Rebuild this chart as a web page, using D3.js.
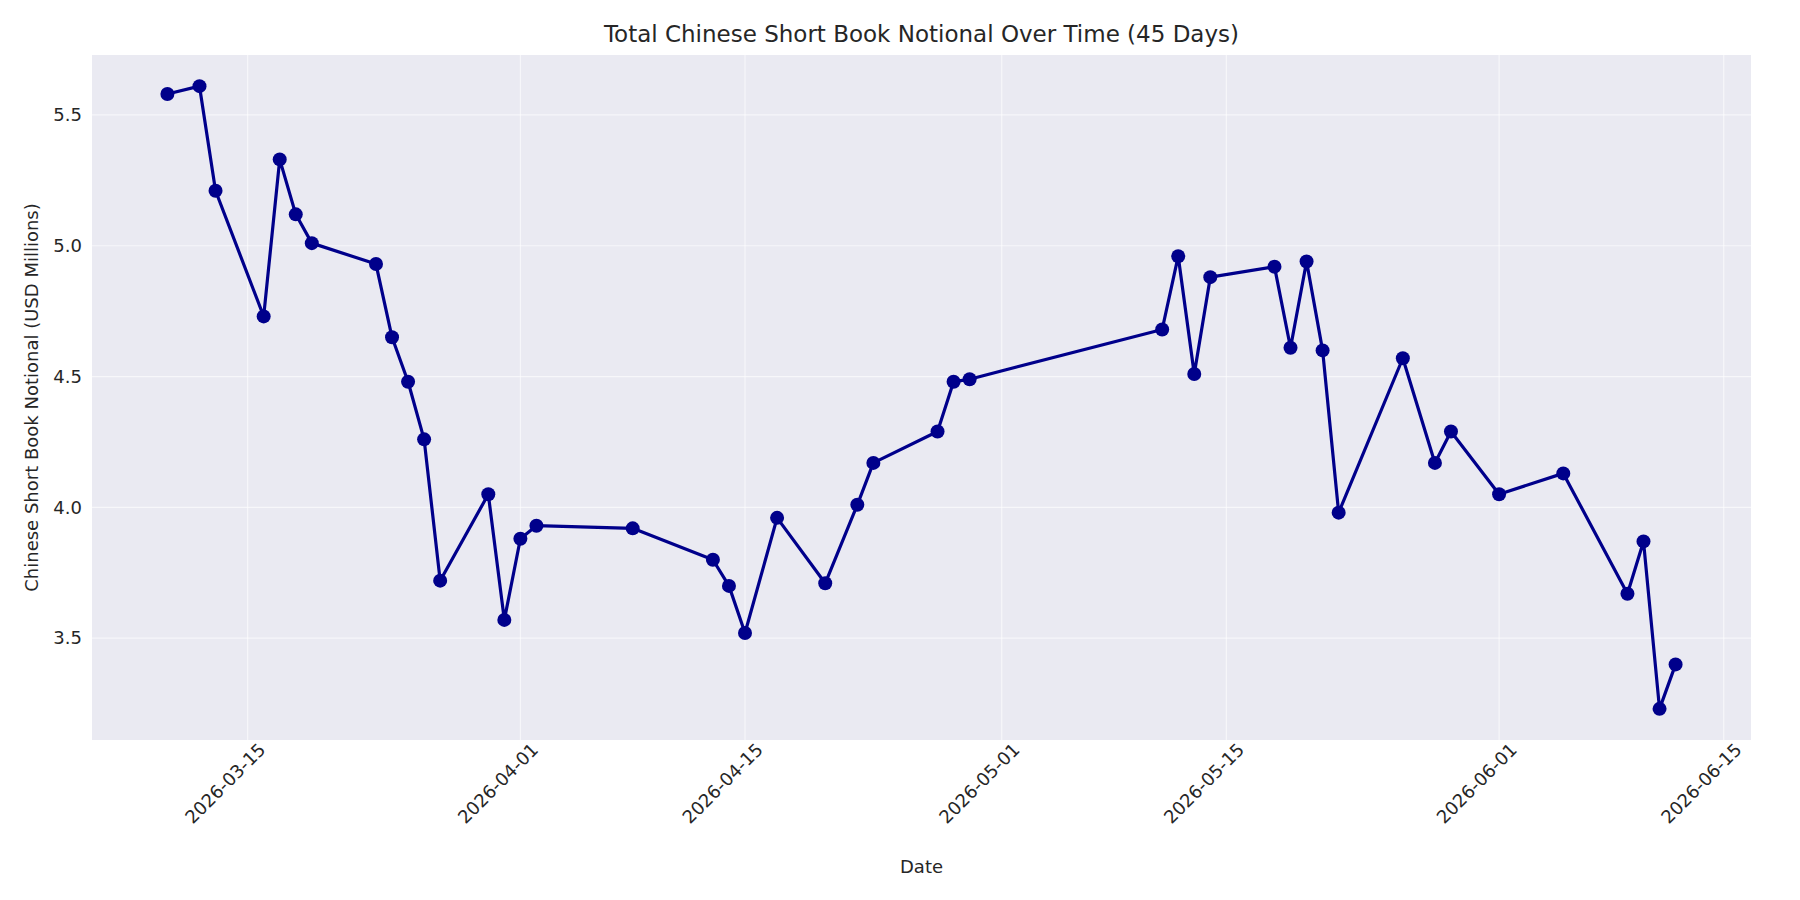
<!DOCTYPE html>
<html><head><meta charset="utf-8">
<script src="https://cdn.jsdelivr.net/npm/d3@7"></script>
<style>body{margin:0;background:#fff;} text{font-family:"DejaVu Sans",sans-serif;fill:#262626;}</style>
</head><body><div id="vis"></div>
<script>
var dates = ["2026-03-10","2026-03-12","2026-03-13","2026-03-16","2026-03-17","2026-03-18","2026-03-19",
  "2026-03-23","2026-03-24","2026-03-25","2026-03-26","2026-03-27","2026-03-30","2026-03-31",
  "2026-04-01","2026-04-02","2026-04-08","2026-04-13","2026-04-14","2026-04-15","2026-04-17",
  "2026-04-20","2026-04-22","2026-04-23","2026-04-27","2026-04-28","2026-04-29",
  "2026-05-11","2026-05-12","2026-05-13","2026-05-14","2026-05-18","2026-05-19","2026-05-20",
  "2026-05-21","2026-05-22","2026-05-26","2026-05-28","2026-05-29",
  "2026-06-01","2026-06-05","2026-06-09","2026-06-10","2026-06-11","2026-06-12"];
var notional = [5.58,5.61,5.21,4.73,5.33,5.12,5.01,
  4.93,4.65,4.48,4.26,3.72,4.05,3.57,
  3.88,3.93,3.92,3.80,3.70,3.52,3.96,
  3.71,4.01,4.17,4.29,4.48,4.49,
  4.68,4.96,4.51,4.88,4.92,4.61,4.94,
  4.60,3.98,4.57,4.17,4.29,
  4.05,4.13,3.67,3.87,3.23,3.40];
var xTicks = ["2026-03-15","2026-04-01","2026-04-15","2026-05-01","2026-05-15","2026-06-01","2026-06-15"];
var yTicks = [3.5,4.0,4.5,5.0,5.5];

var parse = d3.utcParse("%Y-%m-%d");
var points = dates.map(function(d, i) { return {date: parse(d), value: notional[i]}; });

var W = 1800, H = 900;
var m = {left: 92, right: 49, top: 55, bottom: 160};
var svg = d3.select("#vis").append("svg").attr("width", W).attr("height", H);

var xExt = d3.extent(points, function(d) { return +d.date; });
var xPad = (xExt[1] - xExt[0]) * 0.05;
var yExt = d3.extent(notional);
var yPad = (yExt[1] - yExt[0]) * 0.05;

var x = d3.scaleUtc().domain([xExt[0] - xPad, xExt[1] + xPad]).range([m.left, W - m.right]);
var y = d3.scaleLinear().domain([yExt[0] - yPad, yExt[1] + yPad]).range([H - m.bottom, m.top]);

svg.append("rect")
  .attr("x", m.left).attr("y", m.top)
  .attr("width", W - m.left - m.right).attr("height", H - m.top - m.bottom)
  .attr("fill", "#eaeaf2");

// grid
svg.selectAll(".gx").data(xTicks).enter().append("line")
  .attr("x1", function(d) { return x(parse(d)); }).attr("x2", function(d) { return x(parse(d)); })
  .attr("y1", m.top).attr("y2", H - m.bottom)
  .attr("stroke", "#fff").attr("stroke-opacity", 0.6).attr("stroke-width", 1.2);
svg.selectAll(".gy").data(yTicks).enter().append("line")
  .attr("y1", function(d) { return y(d); }).attr("y2", function(d) { return y(d); })
  .attr("x1", m.left).attr("x2", W - m.right)
  .attr("stroke", "#fff").attr("stroke-opacity", 0.6).attr("stroke-width", 1.2);

// axes
var xAxis = svg.append("g").attr("transform", "translate(0," + (H - m.bottom) + ")")
  .call(d3.axisBottom(x).tickValues(xTicks.map(parse)).tickFormat(d3.utcFormat("%Y-%m-%d")).tickSize(0).tickPadding(10));
xAxis.select(".domain").remove();
xAxis.selectAll("text")
  .attr("font-size", 18).attr("text-anchor", "end")
  .attr("dx", "0.3em").attr("dy", "0.6em")
  .attr("transform", "rotate(-45)");

var yAxis = svg.append("g").attr("transform", "translate(" + m.left + ",0)")
  .call(d3.axisLeft(y).tickValues(yTicks).tickFormat(d3.format(".1f")).tickSize(0).tickPadding(10));
yAxis.select(".domain").remove();
yAxis.selectAll("text").attr("font-size", 18);

// line + markers
svg.append("path").datum(points)
  .attr("fill", "none").attr("stroke", "#00008b").attr("stroke-width", 3.2)
  .attr("stroke-linejoin", "round")
  .attr("d", d3.line().x(function(d) { return x(d.date); }).y(function(d) { return y(d.value); }));
svg.selectAll(".pt").data(points).enter().append("circle")
  .attr("cx", function(d) { return x(d.date); })
  .attr("cy", function(d) { return y(d.value); })
  .attr("r", 7).attr("fill", "#00008b");

// labels
svg.append("text").attr("x", (m.left + W - m.right) / 2).attr("y", 42)
  .attr("text-anchor", "middle").attr("font-size", 23)
  .text("Total Chinese Short Book Notional Over Time (45 Days)");
svg.append("text").attr("x", (m.left + W - m.right) / 2).attr("y", 873)
  .attr("text-anchor", "middle").attr("font-size", 18).text("Date");
svg.append("text")
  .attr("transform", "translate(38," + ((m.top + H - m.bottom) / 2) + ") rotate(-90)")
  .attr("text-anchor", "middle").attr("font-size", 18)
  .text("Chinese Short Book Notional (USD Millions)");
</script></body></html>
